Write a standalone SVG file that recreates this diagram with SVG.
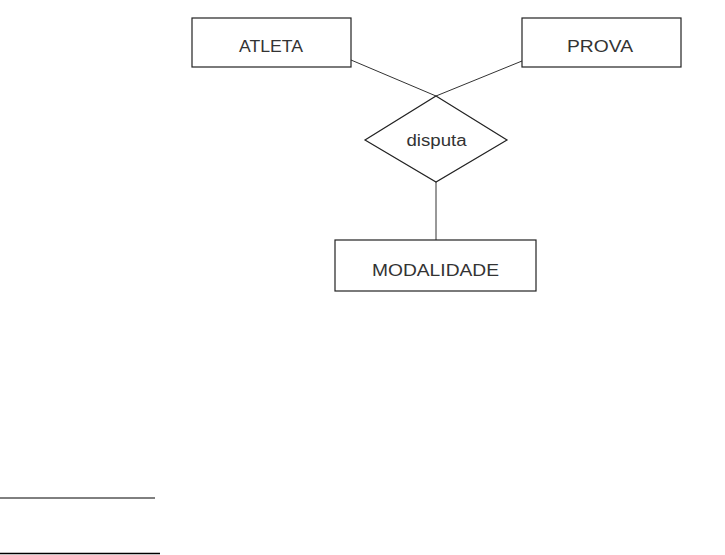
<svg xmlns="http://www.w3.org/2000/svg" width="725" height="555" viewBox="0 0 725 555">
<style>
.box{fill:#fff;stroke:#222;stroke-width:1.2}
.lbl{font-family:"Liberation Sans",Arial,sans-serif;fill:#333;text-anchor:middle}
.edge{stroke:#333;stroke-width:1;fill:none}
</style>
<rect width="725" height="555" fill="#fff"/>
<g id="connectors">
<line class="edge" x1="351" y1="60" x2="436" y2="96"/>
<line class="edge" x1="522" y1="61" x2="436" y2="96"/>
<line class="edge" x1="436" y1="182" x2="436" y2="240"/>
</g>
<g id="atleta">
<rect class="box" x="192" y="18" width="159" height="49"/>
<text class="lbl" x="271" y="52" font-size="17" textLength="64" lengthAdjust="spacingAndGlyphs">ATLETA</text>
</g>
<g id="prova">
<rect class="box" x="522" y="18" width="159" height="49"/>
<text class="lbl" x="600" y="52" font-size="17" textLength="66" lengthAdjust="spacingAndGlyphs">PROVA</text>
</g>
<g id="disputa">
<polygon class="box" points="436,96 507,140 436,182 365,140"/>
<text class="lbl" x="436.5" y="146" font-size="16" textLength="60" lengthAdjust="spacingAndGlyphs">disputa</text>
</g>
<g id="modalidade">
<rect class="box" x="335" y="240" width="201" height="51"/>
<text class="lbl" x="435.5" y="276" font-size="17" textLength="127" lengthAdjust="spacingAndGlyphs">MODALIDADE</text>
</g>
<line x1="0" y1="498" x2="155" y2="498" stroke="#000" stroke-width="1"/>
<line x1="0" y1="553.5" x2="160" y2="553.5" stroke="#000" stroke-width="1.5"/>
</svg>
